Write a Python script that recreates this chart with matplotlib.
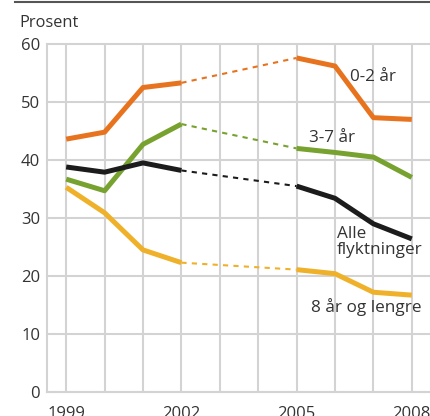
import matplotlib
matplotlib.use("Agg")
import matplotlib.pyplot as plt

plt.rcParams['font.family'] = ['Open Sans', 'DejaVu Sans']

years = [1999, 2000, 2001, 2002, 2005, 2006, 2007, 2008]
barn_0_2 = [43.6, 44.8, 52.5, 53.3, 57.6, 56.2, 47.3, 47.0]
barn_3_7 = [36.7, 34.7, 42.7, 46.2, 42.0, 41.3, 40.5, 37.0]
alle = [38.8, 37.9, 39.5, 38.2, 35.5, 33.4, 29.0, 26.4]
barn_8 = [35.3, 30.9, 24.5, 22.3, 21.1, 20.4, 17.2, 16.7]

series = [
    (barn_0_2, '#E8731E', '0-2 år', 2006.39, 54.3),
    (barn_3_7, '#78A22F', '3-7 år', 2005.32, 43.8),
    (alle, '#1C1C1C', 'Alle\nflyktninger', 2006.05, 25.9),
    (barn_8, '#F0B12A', '8 år og lengre', 2005.38, 14.7),
]

fig = plt.figure(figsize=(4.31, 4.16), dpi=100)
ax = fig.add_axes([0.109, 0.0577, 0.891, 0.8365])

gray = '#D3D3D3'
for vals, col, label, tx, ty in series:
    # solid for yearly data, thin dashed across the gap 2002-2005
    ax.plot(years[:4], vals[:4], color=col, lw=3.6, solid_capstyle='butt', zorder=3)
    ax.plot(years[4:], vals[4:], color=col, lw=3.6, solid_capstyle='butt', zorder=3)
    ax.plot(years[3:5], vals[3:5], color=col, lw=1.5, ls=(0, (2.5, 2.5)), zorder=3)
    ax.text(tx, ty, label, color='#333333', fontsize=12.3, ha='left', va='center',
            linespacing=1.0)

ax.set_xlim(1998.5, 2008.5)
ax.set_ylim(0, 60)
ax.set_xticks(range(1999, 2009))
ax.set_xticklabels(['1999', '', '', '2002', '', '', '2005', '', '', '2008'])
ax.set_yticks(range(0, 61, 10))
ax.tick_params(length=0, labelsize=12, colors='#333333')
ax.tick_params(axis='x', pad=10)
ax.tick_params(axis='y', pad=5)
ax.grid(True, color=gray, lw=1.5)
ax.set_axisbelow(True)
for s in ['top', 'right']:
    ax.spines[s].set_visible(False)
for s in ['left', 'bottom']:
    ax.spines[s].set_color(gray)
    ax.spines[s].set_linewidth(1.5)
for gl in ax.get_ygridlines():
    gl.set_clip_on(False)

fig.text(0.046, 0.935, 'Prosent', fontsize=11.8, color='#333333', ha='left', va='baseline')
fig.add_artist(plt.Line2D([0.035, 1.0], [0.995, 0.995], color='#555555', lw=1.5,
                          transform=fig.transFigure))

fig.savefig('out.png', dpi=100)
